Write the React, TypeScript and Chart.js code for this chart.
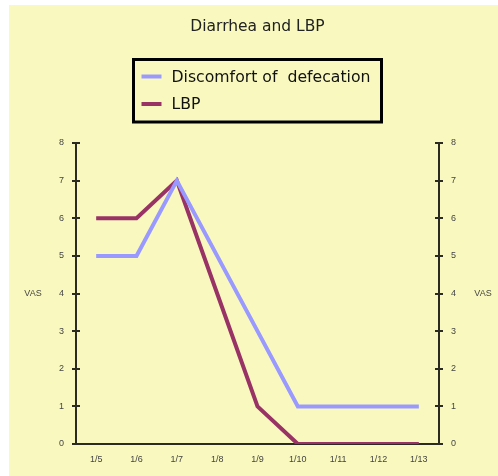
import React, { useEffect, useRef } from "react";
import { Chart, registerables } from "chart.js";

Chart.register(...registerables);

const categories = ["1/5", "1/6", "1/7", "1/8", "1/9", "1/10", "1/11", "1/12", "1/13"];
const discomfortValues = [5, 5, 7, 5, 3, 1, 1, 1, 1];
const lbpValues = [6, 6, 7, 4, 1, 0, 0, 0, 0];
const seriesNames = ["Discomfort of  defecation", "LBP"];
const seriesColors = ["#9999FF", "#993366"];
const chartTitle = "Diarrhea and LBP";
const axisTitle = "VAS";
const yMin = 0;
const yMax = 8;

const FONT = "'Liberation Sans', Arial, sans-serif";
const BIG_FONT = "'DejaVu Sans', sans-serif";
const AXIS_COLOR = "#2b2b22";
const TEXT_COLOR = "#444444";

const decorPlugin = {
  id: "decor",
  afterDraw(chart: any) {
    const ctx = chart.ctx;
    const area = chart.chartArea;
    const yL = chart.scales.y;
    const yR = chart.scales.y1;
    ctx.save();
    // crossing tick marks on both y axes
    ctx.strokeStyle = AXIS_COLOR;
    ctx.lineWidth = 2;
    for (let v = yMin; v <= yMax; v++) {
      const py = Math.round(yL.getPixelForValue(v));
      ctx.beginPath();
      ctx.moveTo(area.left - 4, py);
      ctx.lineTo(area.left + 4, py);
      ctx.moveTo(area.right - 4, py);
      ctx.lineTo(area.right + 4, py);
      ctx.stroke();
    }
    // VAS labels
    ctx.fillStyle = TEXT_COLOR;
    ctx.font = `9px ${FONT}`;
    ctx.textAlign = "center";
    ctx.textBaseline = "middle";
    const vy = yL.getPixelForValue(4);
    ctx.fillText(axisTitle, 24, vy);
    ctx.fillText(axisTitle, yR.right - 15, vy);

    // legend box
    const cx = (area.left + area.right) / 2;
    const bw = 248;
    const bx = cx - bw / 2;
    const by = 54.5;
    const bh = 62.5;
    ctx.lineWidth = 3;
    ctx.strokeStyle = "#000000";
    ctx.strokeRect(bx, by, bw, bh);
    const itemYs = [71.5, 99];
    ctx.font = `15.7px ${BIG_FONT}`;
    ctx.textAlign = "left";
    ctx.textBaseline = "middle";
    seriesNames.forEach((name, i) => {
      ctx.strokeStyle = seriesColors[i];
      ctx.lineWidth = 4;
      ctx.beginPath();
      ctx.moveTo(bx + 8, itemYs[i]);
      ctx.lineTo(bx + 28, itemYs[i]);
      ctx.stroke();
      ctx.fillStyle = "#111111";
      ctx.fillText(name, bx + 38, itemYs[i] + 1);
    });
    ctx.restore();
  },
};

export default function App() {
  const ref = useRef<HTMLCanvasElement | null>(null);
  useEffect(() => {
    if (!ref.current) return;
    const chart = new Chart(ref.current, {
      type: "line",
      data: {
        labels: categories,
        datasets: [
          {
            label: seriesNames[0],
            data: discomfortValues,
            borderColor: seriesColors[0],
            backgroundColor: seriesColors[0],
            borderWidth: 4,
            pointRadius: 0,
            tension: 0,
            yAxisID: "y",
          },
          {
            label: seriesNames[1],
            data: lbpValues,
            borderColor: seriesColors[1],
            backgroundColor: seriesColors[1],
            borderWidth: 4,
            pointRadius: 0,
            tension: 0,
            yAxisID: "y",
          },
        ],
      },
      options: {
        responsive: false,
        animation: false,
        layout: { padding: 0 },
        plugins: {
          legend: { display: false },
          tooltip: { enabled: false },
          title: {
            display: true,
            text: chartTitle,
            fullSize: false,
            color: "#222222",
            font: { family: BIG_FONT, size: 15.5, weight: "normal" },
            padding: { top: 12.7, bottom: 106.7 },
          },
        },
        scales: {
          x: {
            type: "category",
            offset: true,
            grid: { display: false, drawTicks: false },
            border: { display: true, color: AXIS_COLOR, width: 2 },
            ticks: {
              color: TEXT_COLOR,
              font: { family: FONT, size: 9 },
              padding: 10,
              maxRotation: 0,
              autoSkip: false,
            },
            afterFit(scale: any) {
              scale.height = 32;
            },
          },
          y: {
            position: "left",
            min: yMin,
            max: yMax,
            grid: { display: false, drawTicks: false },
            border: { display: true, color: AXIS_COLOR, width: 2 },
            ticks: {
              stepSize: 1,
              color: TEXT_COLOR,
              font: { family: FONT, size: 9 },
              padding: 12,
            },
            afterFit(scale: any) {
              scale.width = 67;
            },
          },
          y1: {
            position: "right",
            min: yMin,
            max: yMax,
            grid: { display: false, drawTicks: false },
            border: { display: true, color: AXIS_COLOR, width: 2 },
            ticks: {
              stepSize: 1,
              color: TEXT_COLOR,
              font: { family: FONT, size: 9 },
              padding: 12,
            },
            afterFit(scale: any) {
              scale.width = 59;
            },
          },
        },
      },
      plugins: [decorPlugin],
    });
    return () => chart.destroy();
  }, []);

  return (
    <div style={{ position: "fixed", left: 0, top: 0, width: 498, height: 476, background: "#ffffff" }}>
      <div style={{ position: "absolute", left: 9, top: 5, width: 489, height: 471, background: "rgb(249,249,191)" }}>
        <canvas ref={ref} width={489} height={471} style={{ display: "block" }} />
      </div>
    </div>
  );
}
